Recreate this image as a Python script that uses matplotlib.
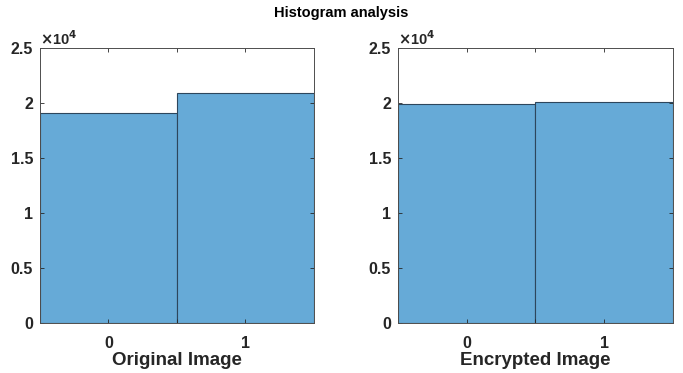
import matplotlib.pyplot as plt
from matplotlib.ticker import FuncFormatter

plt.rcParams['font.family'] = ['Liberation Sans', 'DejaVu Sans']
plt.rcParams['font.weight'] = 'bold'

# pixel counts per bin
bins = [0, 1]
original_counts = [19060, 20940]
encrypted_counts = [19880, 20100]
panel_labels = ['Original Image', 'Encrypted Image']

face = '#66aad7'
edge = '#2d465c'
axcol = '#262626'

fig = plt.figure(figsize=(6.83, 3.73), dpi=100)
fig.suptitle('Histogram analysis', fontsize=10.5, fontweight='bold', y=0.985)

positions = [[0.0586, 0.134, 0.401, 0.737], [0.5827, 0.134, 0.4026, 0.737]]

for pos, counts, label in zip(positions, [original_counts, encrypted_counts], panel_labels):
    ax = fig.add_axes(pos)
    ax.bar(bins, counts, width=1.0, color=face, edgecolor=edge, linewidth=0.8)
    ax.set_xlim(-0.5, 1.5)
    ax.set_ylim(0, 25000)
    ax.set_xticks([0, 0.5, 1])
    ax.set_xticklabels(['0', '', '1'])
    ax.set_yticks([0, 5000, 10000, 15000, 20000, 25000])
    ax.yaxis.set_major_formatter(FuncFormatter(lambda v, p: '%g' % (v / 1e4)))
    ax.tick_params(direction='in', top=True, right=True, length=3, width=0.6,
                   color=axcol, labelcolor=axcol, labelsize=11.5)
    ax.tick_params(axis='x', pad=9)
    ax.tick_params(axis='y', pad=5)
    for lab in ax.get_xticklabels() + ax.get_yticklabels():
        lab.set_fontweight('bold')
    for s in ax.spines.values():
        s.set_color('#4d4d4d')
        s.set_linewidth(0.7)
    ax.set_xlabel(label, fontsize=13.5, fontweight='bold', color=axcol, labelpad=1)
    ax.text(0.0, 1.0, r'$\times$10$^{4}$', transform=ax.transAxes, fontsize=10.5,
            fontweight='bold', color=axcol, ha='left', va='bottom')

fig.savefig('out.png', dpi=100)
